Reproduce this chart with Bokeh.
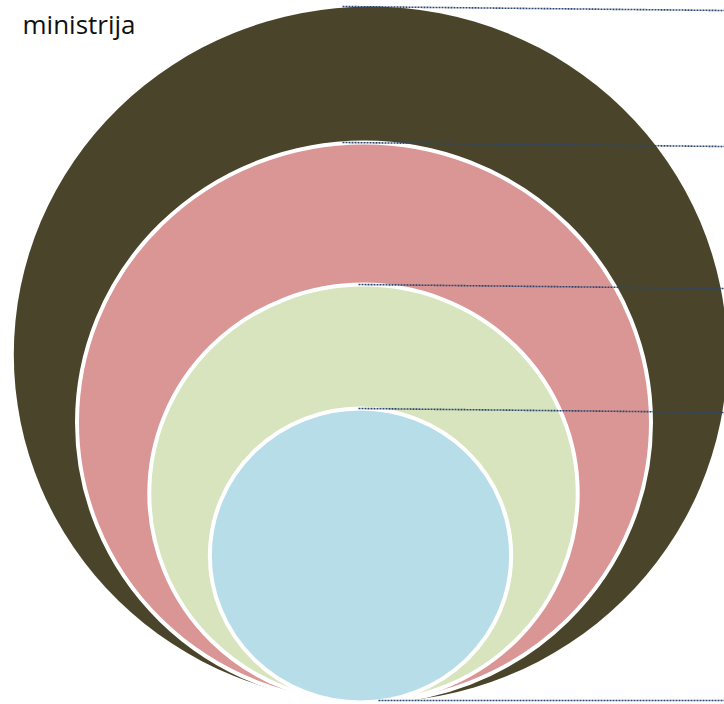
from bokeh.plotting import figure
from bokeh.models import Range1d, ColumnDataSource
from bokeh.core.properties import value
from bokeh.embed import file_html
from bokeh.resources import INLINE

# ---- data ----
title_text = "ministrija"
series = ["level 1", "level 2", "level 3", "level 4"]
radii = [348, 280, 209, 147]            # circle sizes (value units)
colors = ["#4A452A", "#D99694", "#D7E4BD", "#B7DEE8"]

# ---- layout constants ----
ASPECT = 1.025                           # horizontal stretch of the original
REF_W, REF_H = 724, 704
BASE = 2                                 # common bottom of all circles
centers_ref_x = [370, 363.5, 363, 360]
leader_start_ref_x = [342, 342, 358, 358, 378]
leader_end_ref_x = 724

W, H = 724, 704
p = figure(width=W, height=H, output_backend="svg", toolbar_location=None,
           x_range=Range1d(0, REF_W / ASPECT), y_range=Range1d(0, REF_H),
           min_border=0, outline_line_color=None, background_fill_color="white",
           border_fill_color="white")
p.axis.visible = False
p.grid.visible = False

cx = [c / ASPECT for c in centers_ref_x]
cy = [BASE + r for r in radii]
src = ColumnDataSource(dict(x=cx, y=cy, w=[2 * r for r in radii], h=[2 * r for r in radii],
                            color=colors, lc=[None, "white", "white", "white"],
                            lw=[0, 4, 4, 4], name=series))
p.ellipse(x="x", y="y", width="w", height="h", fill_color="color",
          line_color="lc", line_width="lw", source=src)

# leader lines from the top of each circle, plus the common baseline
tops = [BASE + 2 * r for r in radii] + [BASE + 2]
x0 = [s / ASPECT for s in leader_start_ref_x]
x1 = [leader_end_ref_x / ASPECT] * len(tops)
y0 = tops
y1 = [t - 4 for t in tops[:-1]] + [tops[-1]]
p.segment(x0=x0, y0=y0, x1=x1, y1=y1, line_color="#2B4770", line_width=1.6,
          line_dash="2 1", line_cap="butt")

p.text(x=[22 / ASPECT], y=[REF_H - 5], text=[title_text], text_font=value("Open Sans"),
       text_font_size="26px", text_baseline="top", text_align="left", text_color="#111111")

open("out.html", "w").write(file_html(p, INLINE))
